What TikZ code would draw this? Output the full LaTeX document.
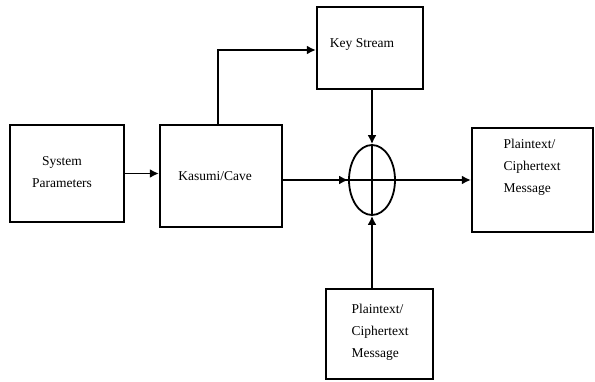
\documentclass[tikz,border=0pt]{standalone}
\usepackage{fontspec}
\setmainfont{Liberation Serif}
\usetikzlibrary{arrows.meta,shapes.geometric}
\begin{document}
\begin{tikzpicture}[x=1pt,y=-1pt,
  blk/.style={draw,line width=2.3pt,inner sep=0pt},
  conn/.style={line width=1.8pt,-{Latex[length=9pt,width=9pt]}},
  lbl/.style={font=\fontsize{13.5}{22}\selectfont,align=left}]
\useasboundingbox (0,0) rectangle (595,381);
\node[blk,minimum width=114pt,minimum height=97pt] (sp) at (67,173.5) {};
\node[lbl,align=center] at (62,172) {System\\Parameters};
\node[blk,minimum width=122pt,minimum height=102pt] (kc) at (221,176) {};
\node[lbl] at (215,176) {Kasumi/Cave};
\node[blk,minimum width=106pt,minimum height=82pt] (ks) at (370,48) {};
\node[lbl] at (362,44) {Key Stream};
\node[draw,ellipse,line width=1.8pt,minimum width=46pt,minimum height=70pt,inner sep=0pt] (xo) at (372,180) {};
\draw[line width=2.5pt] (343,180) -- (401,180);
\draw[line width=1.8pt] (xo.north) -- (xo.south);
\node[blk,minimum width=121pt,minimum height=104pt] (out) at (532.5,180) {};
\node[lbl,anchor=west] at (500,167) {Plaintext/\\Ciphertext\\Message};
\node[blk,minimum width=107pt,minimum height=90pt] (pt) at (379.5,334) {};
\node[lbl,anchor=west] at (348,332) {Plaintext/\\Ciphertext\\Message};
\draw[conn] (sp.east) -- (kc.west |- sp.east);
\coordinate (c1) at (218,50);
\draw[conn] (kc.north -| c1) -- (c1) -- (ks.west |- c1);
\draw[conn] (kc.east |- xo.center) -- (xo.west);
\draw[conn] (xo.east) -- (out.west);
\draw[conn] (ks.south -| xo.north) -- (xo.north);
\draw[conn] (pt.north -| xo.south) -- (xo.south);
\end{tikzpicture}
\end{document}
